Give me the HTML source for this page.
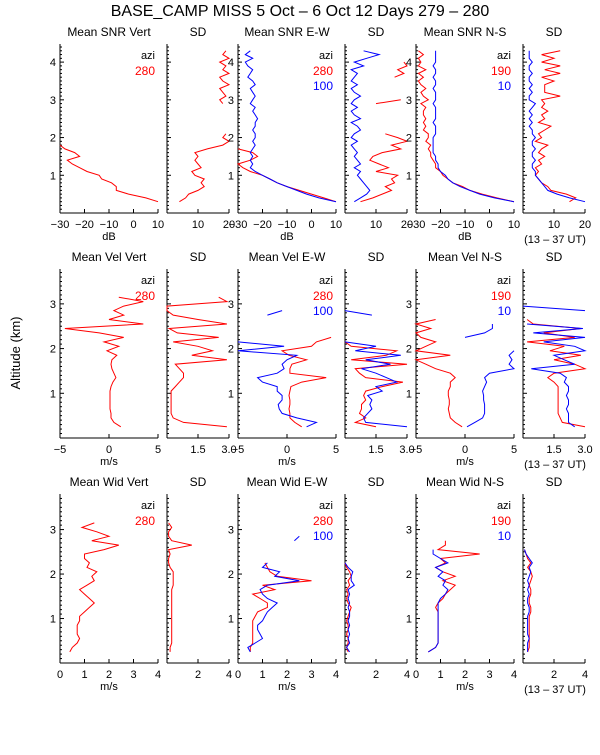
<!DOCTYPE html>
<html><head><meta charset="utf-8"><style>
body{margin:0;background:#fff;}
svg text{font-family:"Liberation Sans",sans-serif;}
</style></head><body>
<svg id="c" width="600" height="750" xmlns="http://www.w3.org/2000/svg">
<rect width="600" height="750" fill="#fff"/>
<text x="300" y="16" font-size="16" text-anchor="middle">BASE_CAMP MISS    5 Oct –  6 Oct 12 Days 279 – 280</text>
<text transform="translate(20,353) rotate(-90)" font-size="13" text-anchor="middle">Altitude (km)</text>
</svg>
<script>
const alt1=[0.3,0.4,0.5,0.6,0.7,0.8,0.9,1.0,1.1,1.2,1.3,1.4,1.5,1.6,1.7,1.8,1.9,2.0,2.1,2.2,2.3,2.4,2.5,2.6,2.7,2.8,2.9,3.0,3.1,3.2,3.3,3.4,3.5,3.6,3.7,3.8,3.9,4.0,4.1,4.2,4.3];
const alt2=[0.25,0.35,0.45,0.55,0.65,0.75,0.85,0.95,1.05,1.15,1.25,1.35,1.45,1.55,1.65,1.75,1.85,1.95,2.05,2.15,2.25,2.35,2.45,2.55,2.65,2.75,2.85,2.95,3.05,3.15];
const N=null;
const snrVertRed=[10,5,-2,-7,-7,-9,-13,-14,-19,-22,-25,-27,-22,-24,-28,-30,N,N,N,N,N,N,N,N,N,N,N,N,N,N,N,N,N,N,N,N,N,N,N,N,N];
const sdSnrVertRed=[4,6,7,10,12,11,12,9,8,11,10,9,10,9,13,18,20,18,19,N,N,N,18,N,N,N,18,17,19,18,17,20,18,17,20,18,19,17,20,18,19];
const snrEwRed=[10,5,0,-5,-10,-14,-17,-20,-25,-28,-30,-25,-22,-24,-30,N,N,N,N,N,N,N,N,N,N,N,N,N,N,N,N,N,N,N,N,N,N,N,N,N,N];
const snrEwBlue=[10,3,-2,-6,-10,-14,-17,-20,-23,-25,-24,-25,-24,-25,-24,-23,-24,-23,-23,-24,-23,-23,-22,-23,-24,-23,-25,-24,-23,-24,-25,-23,-24,-26,-25,-24,-26,-27,-24,-27,-25];
const sdSnrEwRed=[5,9,12,15,13,16,15,17,10,14,11,8,9,12,18,15,20,17,13,N,N,N,N,N,N,N,10,18,N,N,N,N,N,16,19,17,20,19,N,N,19];
const sdSnrEwBlue=[3,5,7,8,7,6,5,4,5,3,5,4,3,4,3,2,4,2,3,5,4,2,5,3,2,4,2,3,5,3,2,4,2,3,4,2,6,3,7,11,6];
const snrNsRed=[10,3,-3,-8,-11,-15,-17,-19,-20,-22,-22,-23,-24,-24,-25,-24,-26,-25,-25,-27,-26,-27,-26,-27,-27,-26,-28,-25,-27,-28,-26,-28,-29,-27,-29,-26,-29,-28,-29,-27,-29];
const snrNsBlue=[10,2,-4,-8,-12,-15,-17,-18,-20,-21,-21,-22,-22,-23,-23,-23,-23,-23,-22,-22,-22,-23,-22,-22,-22,-22,-23,-22,-22,-22,-23,-22,-22,-23,-22,-22,-23,-22,-22,-22,-22];
const sdSnrNsRed=[15,17,14,9,8,6,5,4,5,4,6,5,7,5,6,8,4,6,5,7,9,5,7,6,8,6,7,6,12,7,7,7,10,6,12,7,12,6,10,6,12];
const sdSnrNsBlue=[20,15,11,8,7,6,5,4,4,3,3,4,3,3,4,3,3,4,3,3,2,3,2,3,2,3,4,2,2,3,2,3,2,2,3,2,2,3,2,2,2];
const velVertRed=[1.2,0.5,0.2,0.2,0.1,0.1,0.1,0.1,0.1,0.2,0.4,0.7,0.5,0.3,0.2,0.3,0.8,-0.2,1.0,-0.5,1.5,-1,-4.5,3.5,0,1.5,0.5,1.5,3.5,1];
const sdVelVertRed=[2.9,0.8,0.3,0.2,0.2,0.2,0.2,0.2,0.2,0.4,0.6,0.8,0.8,0.6,0.4,2.9,1.2,2.2,1.5,0.3,2.5,0.5,0.1,2.9,1.5,0.3,0,0,2.9,2.5];
const velEwRed=[1.5,0.8,0.3,0.3,0.2,0.3,0.3,0.2,0.3,0.4,1.5,4,0.3,0.3,0.5,2,0.2,-0.5,2.5,3,4.5,N,N,N,N,N,N,N,N,N];
const velEwBlue=[2,3,1,-0.5,-0.8,-0.9,-0.5,-0.5,-1,-1,-2.5,-3,-1,-0.3,-0.5,0,1,-5,-0.3,-5,N,N,5,N,N,-2,-0.5,N,N,N];
const sdVelEwRed=[1.5,0.5,1,0.7,0.8,0.8,1,0.9,1,1.8,2.8,1,0.7,0.5,3,0.3,2,2.5,0.3,0,N,N,N,N,N,N,N,N,N,N];
const sdVelEwBlue=[3,1,0.9,1.1,1.3,1.2,1.3,1.1,1.8,1.5,2.5,2,1.5,0.8,2.2,1,2.7,0.5,1.5,0,N,N,N,N,N,1.3,0,N,N,N];
const velNsRed=[-0.3,-1,-1.5,-1.6,-1.7,-1.6,-1.6,-1.7,-1.7,-1.5,-1.5,-1,-1.5,-3,-4,-5,-1.5,-5,-4,-3,-4.5,-5,-3.5,-5,-3,N,N,N,N,N];
const velNsBlue=[0.2,1,1.8,2,2,2,1.9,1.9,1.8,2,2.2,2,2.5,5,4.5,4.8,4.5,5,N,N,0,2,2.8,2.8,N,N,-5,N,N,N];
const sdVelNsRed=[3,1.9,1.8,1.7,1.7,1.7,1.7,1.7,1.7,1.7,1.5,1.2,1.5,3,2.5,1.5,2.8,1.3,2,0.2,2.5,1,2.8,0.5,0.2,N,N,N,N,N];
const sdVelNsBlue=[2.5,2.2,2.2,2.2,2.1,2.2,2.2,2.1,2.2,2.2,2,2.1,1.8,0.4,2.5,2,1.5,3,2.5,1,3,0.5,2.9,0.2,N,N,3,0,N,N];
const widVertRed=[0.4,0.5,0.7,0.8,0.7,0.7,0.7,0.8,0.8,1,1.2,1.4,1.2,1.0,0.8,1.1,1.4,1.3,1.5,1.1,1.2,1.0,1.0,1.8,2.4,1.3,2.0,1.5,0.9,1.4];
const sdWidVertRed=[0.2,0.2,0.3,0.3,0.3,0.3,0.3,0.3,0.3,0.3,0.3,0.3,0.3,0.3,0.3,0.4,0.4,0.4,0.4,0.2,0.1,0.1,0.2,0.1,1.6,0.3,0.1,0.1,0.3,0.1];
const widEwRed=[0.5,0.5,0.6,0.6,0.6,0.6,0.6,0.6,0.7,0.8,1.2,1.2,0.9,0.6,1.5,1.0,3,1.6,1.3,1.2,1.1,N,N,N,N,N,N,N,N,N];
const widEwBlue=[0.5,0.4,0.7,1.0,0.9,0.8,0.8,1.0,1.1,1.2,1.4,1.6,1.2,1.0,0.9,1.2,2.5,1.5,1.7,1.0,1.2,N,1.1,N,N,2.3,2.5,N,N,N];
const sdWidEwRed=[0.2,0.1,0.2,0.2,0.1,0.2,0.2,0.1,0.2,0.3,0.4,0.2,0.1,0.2,0.1,0.3,0.2,0.4,0.3,0.1,0,N,N,N,N,N,N,N,N,N];
const sdWidEwBlue=[0.3,0.1,0.3,0.2,0.3,0.2,0.3,0.2,0.3,0.3,0.2,0.3,0.2,0.3,0.2,0.6,0.4,0.4,0.5,0.2,0,N,N,N,N,N,0.1,N,N,N];
const widNsRed=[0.5,0.8,0.9,0.9,0.9,0.9,0.9,0.9,0.9,0.9,0.8,0.9,1.1,1.2,1.4,1.6,1.1,1.6,1.1,0.8,1.2,1.0,2.6,0.9,1.2,1.2,N,N,N,N];
const widNsBlue=[0.5,0.8,0.9,0.9,0.9,0.9,0.9,0.9,0.9,0.9,0.9,0.9,1.0,1.2,1.3,1.1,1.2,0.9,1.1,0.8,1.3,1.0,0.7,0.7,N,N,0.9,N,N,N];
const sdWidNsRed=[0.3,0.4,0.4,0.4,0.4,0.4,0.4,0.4,0.4,0.5,0.5,0.4,0.4,0.5,0.5,0.4,0.5,0.6,0.5,0.3,0.5,0.3,0.2,0.1,N,N,N,N,N,N];
const sdWidNsBlue=[0.3,0.3,0.3,0.4,0.3,0.3,0.3,0.3,0.3,0.4,0.4,0.3,0.3,0.4,0.3,0.4,0.3,0.4,0.5,0.4,0.6,0.4,0.2,0.1,N,N,0.1,N,N,N];

const svg=document.getElementById('c');
const NS='http://www.w3.org/2000/svg';
function mk(tag,attrs,parent){const e=document.createElementNS(NS,tag);for(const k in attrs)e.setAttribute(k,attrs[k]);(parent||svg).appendChild(e);return e;}
function txt(x,y,s,size,anchor,fill){const t=mk('text',{x:x,y:y,'font-size':size,'text-anchor':anchor,fill:fill||'#000'});t.textContent=s;return t;}

const cols=[[60,158],[167,229],[238,336],[345,407],[416,514],[523,585]];
const rows=[
 {top:44,bot:213,ymax:4.48,ticks:[1,2,3,4],alt:alt1,unit:'dB',
  titles:['Mean SNR Vert','SD','Mean SNR E-W','SD','Mean SNR N-S','SD'],
  xd:[[-30,10],[0,20],[-30,10],[0,20],[-30,10],[0,20]],
  xt:[[-30,-20,-10,0,10],[10,20],[-30,-20,-10,0,10],[10,20],[-30,-20,-10,0,10],[10,20]],
  series:[[[snrVertRed,'red']],[[sdSnrVertRed,'red']],[[snrEwRed,'red'],[snrEwBlue,'blue']],[[sdSnrEwRed,'red'],[sdSnrEwBlue,'blue']],[[snrNsRed,'red'],[snrNsBlue,'blue']],[[sdSnrNsRed,'red'],[sdSnrNsBlue,'blue']]]},
 {top:269,bot:438,ymax:3.78,ticks:[1,2,3],alt:alt2,unit:'m/s',
  titles:['Mean Vel Vert','SD','Mean Vel E-W','SD','Mean Vel N-S','SD'],
  xd:[[-5,5],[0,3],[-5,5],[0,3],[-5,5],[0,3]],
  xt:[[-5,0,5],[1.5,3],[-5,0,5],[1.5,3],[-5,0,5],[1.5,3]],
  series:[[[velVertRed,'red']],[[sdVelVertRed,'red']],[[velEwRed,'red'],[velEwBlue,'blue']],[[sdVelEwRed,'red'],[sdVelEwBlue,'blue']],[[velNsRed,'red'],[velNsBlue,'blue']],[[sdVelNsRed,'red'],[sdVelNsBlue,'blue']]]},
 {top:494,bot:663,ymax:3.8,ticks:[1,2,3],alt:alt2,unit:'m/s',
  titles:['Mean Wid Vert','SD','Mean Wid E-W','SD','Mean Wid N-S','SD'],
  xd:[[0,4],[0,4],[0,4],[0,4],[0,4],[0,4]],
  xt:[[0,1,2,3,4],[2,4],[0,1,2,3,4],[2,4],[0,1,2,3,4],[2,4]],
  series:[[[widVertRed,'red']],[[sdWidVertRed,'red']],[[widEwRed,'red'],[widEwBlue,'blue']],[[sdWidEwRed,'red'],[sdWidEwBlue,'blue']],[[widNsRed,'red'],[widNsBlue,'blue']],[[sdWidNsRed,'red'],[sdWidNsBlue,'blue']]]}
];
const azis=[['280'],[],['280','100'],[],['190','10'],[]];

rows.forEach((r,ri)=>{
  const yS=v=>r.bot-(v/r.ymax)*(r.bot-r.top);
  cols.forEach((c,ci)=>{
    const g=mk('g',{});
    
    
    const [d0,d1]=r.xd[ci];
    const xS=v=>c[0]+(v-d0)/(d1-d0)*(c[1]-c[0]);
    mk('line',{x1:c[0],y1:r.top,x2:c[0],y2:r.bot,stroke:'#000','stroke-width':1},g);
    mk('line',{x1:c[0],y1:r.bot,x2:c[1],y2:r.bot,stroke:'#000','stroke-width':1},g);
    for(let k=1;k*0.1<r.ymax;k++){const v=k*0.1;const maj=(k%10===0);
      mk('line',{x1:c[0],y1:yS(v),x2:c[0]+(maj?4:2),y2:yS(v),stroke:'#000','stroke-width':1},g);}
    if(ci%2===0){r.ticks.forEach(t=>{const l=txt(c[0]-4,yS(t)+4,String(t),11,'end');});}
    r.xt[ci].forEach(t=>{mk('line',{x1:xS(t),y1:r.bot,x2:xS(t),y2:r.bot-4,stroke:'#000'},g);
      const s=(ri===1&&ci%2===1)?t.toFixed(1):String(t).replace('-','−');
      const l=txt(xS(t),r.bot+15,s,11,'middle');});
    const tt=txt((c[0]+c[1])/2,r.top-8,r.titles[ci],12,'middle');
    
    
    if(ci%2===0){const u=txt((c[0]+c[1])/2,r.bot+27,r.unit,11,'middle');
      const a=txt(c[1]-3,r.top+15,'azi',11,'end');
      azis[ci].forEach((z,zi)=>{const e=txt(c[1]-3,r.top+31+zi*15,z,12,'end',zi===0?'red':'blue');});}
    if(ci===5){const u=txt(555,r.bot+30,'(13 – 37 UT)',11,'middle');}
    r.series[ci].forEach(([vals,col])=>{
      let segs=[],cur=[];
      vals.forEach((v,i)=>{if(v===null){if(cur.length)segs.push(cur);cur=[];}else cur.push(xS(v).toFixed(1)+','+yS(r.alt[i]).toFixed(1));});
      if(cur.length)segs.push(cur);
      segs.forEach(s=>{if(s.length<2)return;const p=mk('polyline',{points:s.join(' '),fill:'none',stroke:col,'stroke-width':1},g);
        
        });
    });
  });
});
</script>
</body></html>
